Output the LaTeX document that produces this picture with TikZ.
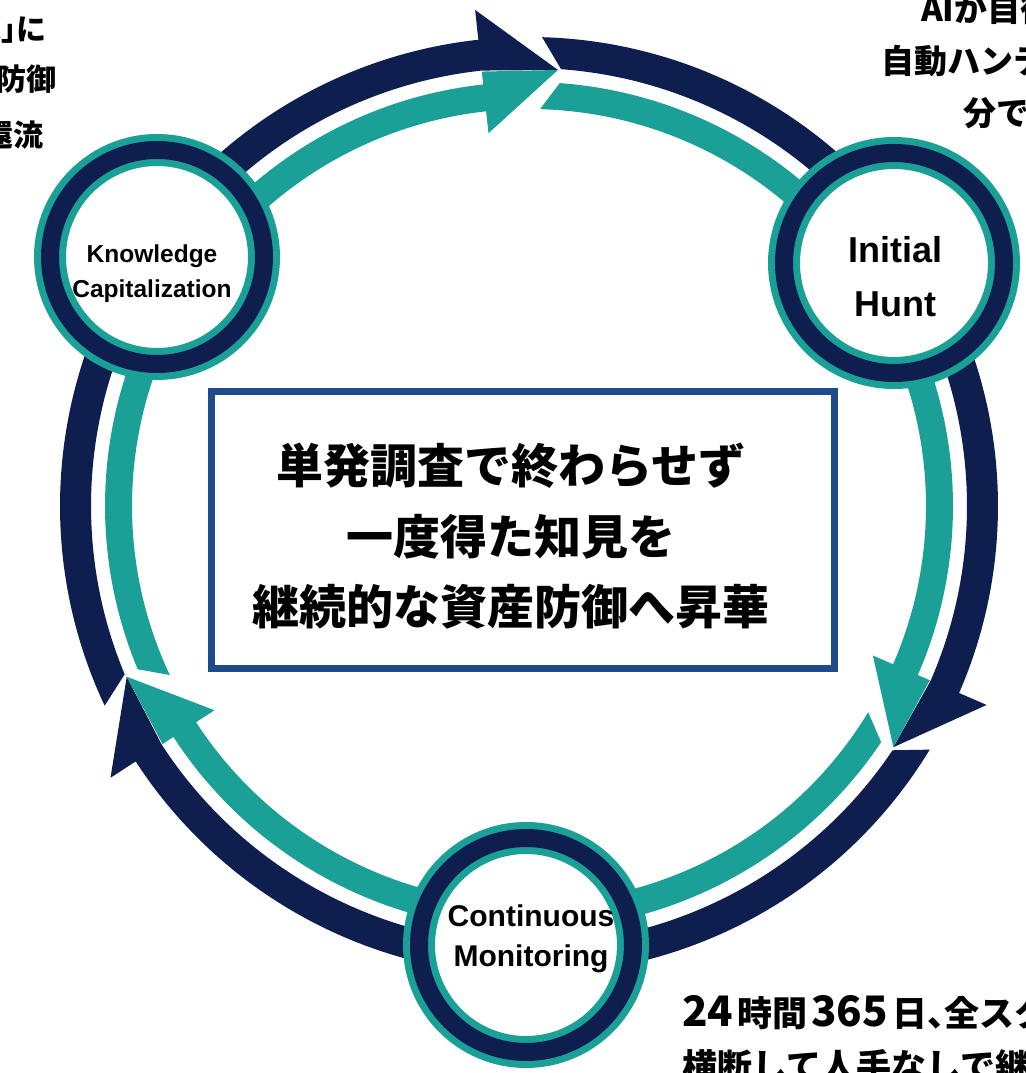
\documentclass[tikz,border=0pt]{standalone}
\usepackage{fontspec}
\setmainfont{Liberation Sans}
\newfontfamily\jp{Noto Sans CJK JP}
\definecolor{navy}{HTML}{0E1E4E}
\definecolor{tealc}{HTML}{1AA096}
\definecolor{boxblue}{HTML}{1E4B8C}
\pgfdeclarelayer{background}
\pgfsetlayers{background,main}
\newcommand\bigdig[1]{{\fontsize{42}{42}\selectfont #1}}
\begin{document}
\begin{tikzpicture}[x=1pt,y=1pt,
  stage/.style={circle, inner sep=0pt, draw=navy, line width=18pt,
    preaction={fill=white, draw=tealc, line width=32pt}},
  stagetext/.style={align=center, inner sep=0pt, text=black, font=\bfseries},
  msgbox/.style={rectangle, draw=boxblue, line width=7pt, fill=white, inner sep=0pt},
  jptext/.style={inner sep=0pt, text=black, font=\jp\bfseries}]
\path[use as bounding box, clip] (0,0) rectangle (1025,1073);
\coordinate (ctr) at (529,567);

% stages
\node[stage, minimum size=214pt] (kc) at (157,816) {};
\node[stage, minimum size=220pt] (ih) at (894,810) {};
\node[stage, minimum size=214pt] (cm) at (526,128) {};

\node[stagetext, font=\bfseries\fontsize{24.5}{35}\selectfont] (kct) at (152,799) {Knowledge\\Capitalization};
\node[stagetext, font=\bfseries\fontsize{36}{54}\selectfont] (iht) at (895,796) {Initial\\Hunt};
\node[stagetext, font=\bfseries\fontsize{30}{40}\selectfont] (cmt) at (531,134) {Continuous\\Monitoring};

% central message
\node[msgbox, minimum width=623pt, minimum height=277pt] (box) at (523,543) {};
\node[jptext, align=center, font=\jp\bfseries\fontsize{47}{70.5}\selectfont] (msg) at (511,536.5)
  {単発調査で終わらせず\\一度得た知見を\\継続的な資産防御へ昇華};

% cycle arrows (outer navy band, inner teal band)
\begin{pgfonlayer}{background}
\fill[white] (0,0) rectangle (1025,1073);
\begin{scope}[shift={(ctr)}]
\foreach \p/\t in {203/86.2, 86.2/-33.5, -33.5/-157}{
  \pgfmathsetmacro\ta{\p+2.2}
  \pgfmathsetmacro\tb{\t+10}
  \pgfmathsetmacro\tdi{\p-0.4}
  \pgfmathsetmacro\tto{\p-0.35}
  \fill[navy] (\ta:469) arc[start angle=\ta, end angle=\tb, radius=469]
     -- (\tb:499) -- (\t:437) -- (\tb:438)
     arc[start angle=\tb, end angle=\tdi, radius=438] -- cycle;
  \fill[tealc] (\ta:397) arc[start angle=\ta, end angle=\tb, radius=397]
     -- (\tb:375) -- (\t:437) -- (\tb:437) -- (\tb:424)
     arc[start angle=\tb, end angle=\tto, radius=424] -- cycle;
}
\end{scope}
\end{pgfonlayer}

% corner texts (cut by the frame)
\node[jptext, anchor=east, font=\jp\bfseries\fontsize{30}{36}\selectfont] (tl1) at (47,1044) {「知見」\kern-15pt に};
\node[jptext, anchor=east, font=\jp\bfseries\fontsize{30}{36}\selectfont] (tl2) at (57,994) {資産防御};
\node[jptext, anchor=east, font=\jp\bfseries\fontsize{30}{36}\selectfont] (tl3) at (44,938) {還流};

\node[jptext, anchor=west, font=\jp\bfseries\fontsize{33}{40}\selectfont] (tr1) at (921,1064) {AIが自律的に};
\node[jptext, anchor=west, font=\jp\bfseries\fontsize{33}{40}\selectfont] (tr2) at (881,1012) {自動ハンティング};
\node[jptext, anchor=west, font=\jp\bfseries\fontsize{33}{40}\selectfont] (tr3) at (963,960) {分で完了};

\node[jptext, anchor=base west, font=\jp\bfseries\fontsize{35}{42}\selectfont] (br1) at (682,46)
  {\bigdig{24}\kern4pt 時間\kern4pt\bigdig{365}\kern4pt 日、\kern-18pt 全スタック};
\node[jptext, anchor=west, font=\jp\bfseries\fontsize{35}{42}\selectfont] (br2) at (682,7) {横断して人手なしで継続監視};
\end{tikzpicture}
\end{document}
